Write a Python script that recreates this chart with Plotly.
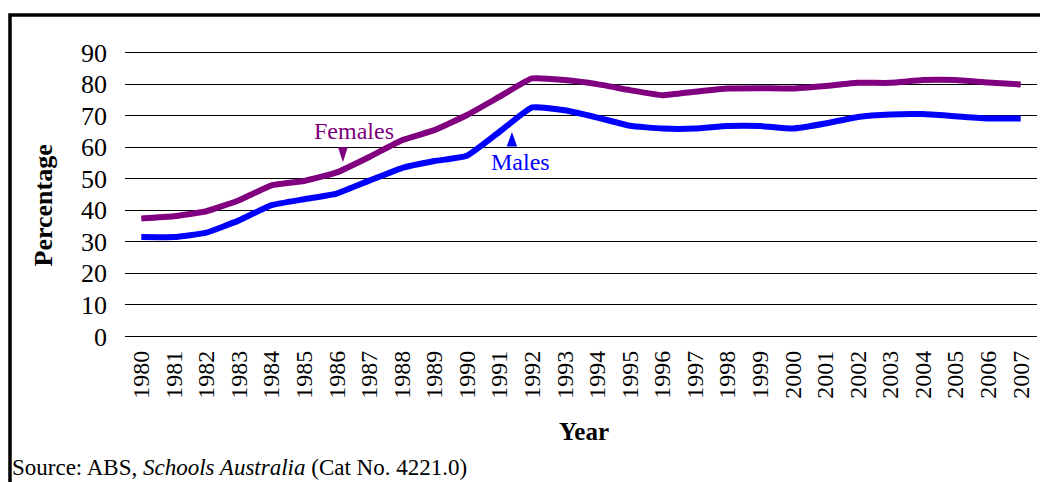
import plotly.graph_objects as go

# Year 12 apparent retention rates, Australia
years = list(range(1980, 2008))
females = [37.4, 38.1, 39.7, 43.2, 47.9, 49.3, 52.0, 56.9, 62.2, 65.4,
           70.2, 76.0, 81.8, 81.3, 80.0, 78.1, 76.5, 77.6, 78.6, 78.7,
           78.6, 79.4, 80.4, 80.4, 81.3, 81.3, 80.5, 79.9]
males = [31.5, 31.5, 32.9, 36.8, 41.6, 43.5, 45.3, 49.4, 53.4, 55.6,
         57.3, 64.9, 72.6, 71.7, 69.4, 66.8, 65.9, 65.9, 66.7, 66.7,
         65.9, 67.5, 69.6, 70.4, 70.5, 69.8, 69.1, 69.1]
y_ticks = list(range(0, 100, 10))

PURPLE = "#800080"
BLUE = "#0000FF"
SERIF = "Liberation Serif"

fig = go.Figure()
fig.add_trace(go.Scatter(x=years, y=females, mode="lines", name="Females",
                         line=dict(color=PURPLE, width=6, shape="spline", smoothing=0.4)))
fig.add_trace(go.Scatter(x=years, y=males, mode="lines", name="Males",
                         line=dict(color=BLUE, width=6, shape="spline", smoothing=0.4)))

# outer frame (left and top edges visible)
fig.add_shape(type="rect", xref="paper", yref="paper",
              x0=-0.1261, x1=2.0, y0=-2.0, y1=1.1254,
              line=dict(color="black", width=3.5), fillcolor="rgba(0,0,0,0)")

# pointer triangles for the series labels
fig.add_shape(type="path", xref="x", yref="y",
              path="M 1986.04 60.0 L 1986.34 60.0 L 1986.19 55.2 Z",
              fillcolor=PURPLE, line=dict(width=0))
fig.add_shape(type="path", xref="x", yref="y",
              path="M 1991.22 60.2 L 1991.54 60.2 L 1991.38 64.8 Z",
              fillcolor=BLUE, line=dict(width=0))

fig.add_annotation(x=1986.53, y=65.0, xref="x", yref="y", text="Females",
                   xanchor="center", yanchor="middle", showarrow=False,
                   font=dict(family=SERIF, size=24, color=PURPLE))
fig.add_annotation(x=1991.63, y=55.3, xref="x", yref="y", text="Males",
                   xanchor="center", yanchor="middle", showarrow=False,
                   font=dict(family=SERIF, size=24, color=BLUE))

# axis titles and source note
fig.add_annotation(x=-0.0899, y=0.4617, xref="paper", yref="paper", text="<b>Percentage</b>",
                   textangle=-90, xanchor="center", yanchor="middle", showarrow=False,
                   font=dict(family=SERIF, size=26, color="black"))
fig.add_annotation(x=0.503, y=-0.3244, xref="paper", yref="paper", text="<b>Year</b>",
                   xanchor="center", yanchor="middle", showarrow=False,
                   font=dict(family=SERIF, size=25, color="black"))
fig.add_annotation(x=-0.1261, y=-0.4502, xref="paper", yref="paper",
                   xanchor="left", yanchor="middle",
                   text="Source: ABS, <i>Schools Australia</i> (Cat No. 4221.0)",
                   showarrow=False, font=dict(family=SERIF, size=23, color="black"))

fig.update_xaxes(range=[1979.5, 2007.5], tickvals=years, ticktext=[str(y) for y in years],
                 tickangle=-90, showgrid=False, zeroline=False, showline=False, ticks="",
                 ticklabelstandoff=7,
                 tickfont=dict(family=SERIF, size=24, color="black"))
fig.update_yaxes(range=[-0.5, 90.5], tickvals=y_ticks, showgrid=True, gridcolor="black",
                 gridwidth=1, zeroline=False, showline=False, ticks="",
                 ticklabelstandoff=17,
                 tickfont=dict(family=SERIF, size=26, color="black"))

fig.update_layout(width=1040, height=482, showlegend=False,
                  margin=dict(l=125, r=3, t=51, b=144, autoexpand=False),
                  paper_bgcolor="white", plot_bgcolor="white")

fig.write_html("out.html")
